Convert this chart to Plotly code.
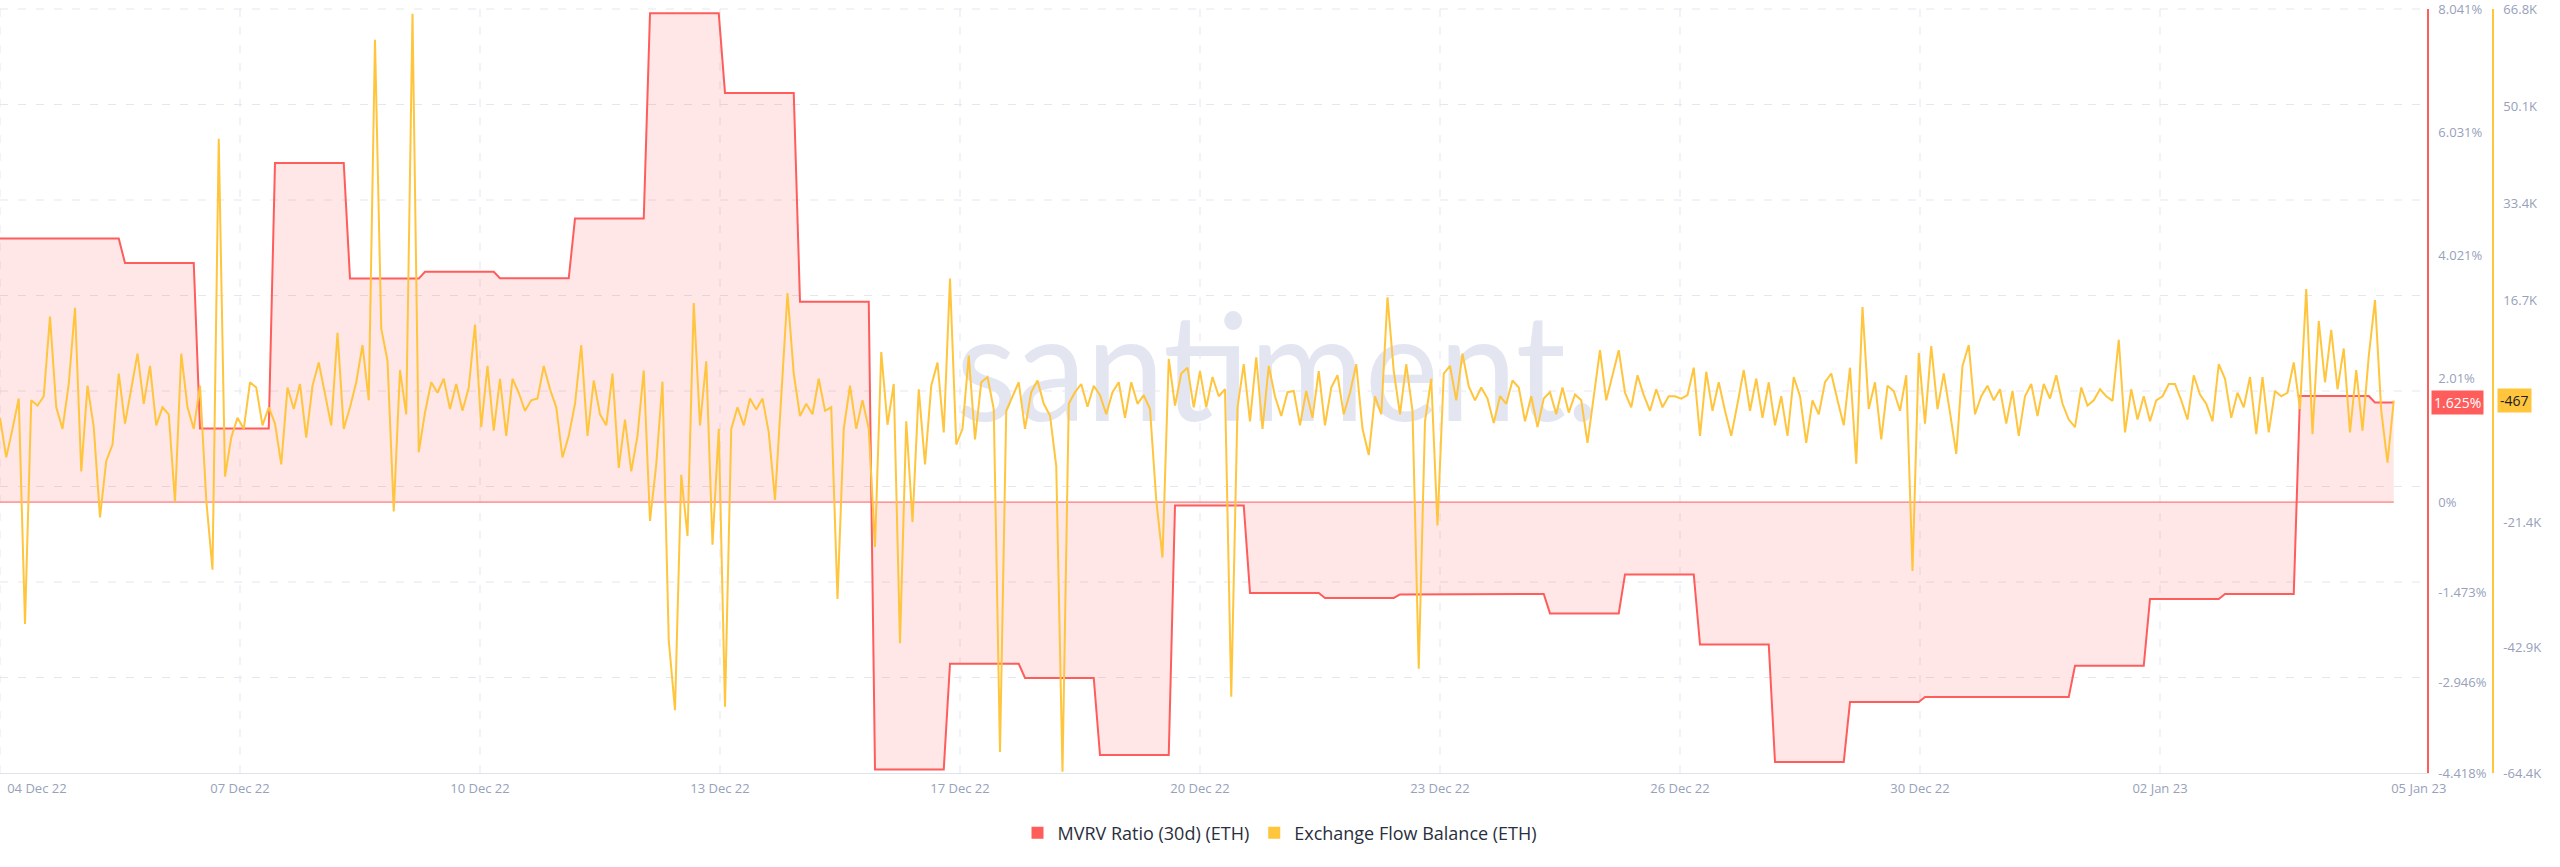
import base64
from datetime import datetime, timedelta
import plotly.graph_objects as go

# ---------------- data ----------------
series_start = datetime(2022, 12, 4, 8, 0)   # first sample
sample_hours = 2

# MVRV Ratio (30d) in %, one value per calendar day, 04 Dec 22 .. 05 Jan 23
mvrv_daily = [
    4.297, 4.297, 3.899, 1.199, 5.53, 3.645, 3.755, 3.65, 4.623, 7.97,
    6.673, 3.266, -4.36, -2.637, -2.868, -4.124, -0.055, -1.481, -1.563, -1.507,
    -1.500, -1.815, -1.180, -2.324, -4.238, -3.26, -3.18, -3.18, -2.67, -1.58,
    -1.50, 1.73, 1.625,
]

# Exchange Flow Balance in thousands of ETH, one value every 2 hours
flow_balance_k = [
    -3.4, -10.2, -5.3, -0.1, -38.8, -0.4, -1.3, 0.3, 14.0, -1.6, -5.3, 2.4,
    15.5, -12.6, 2.1, -5.0, -20.5, -10.8, -8.0, 4.2, -4.4, 1.5, 7.6, -1.0,
    5.5, -4.7, -1.6, -2.8, -17.8, 7.6, -1.6, -5.3, 2.1, -17.5, -29.5, 44.5,
    -13.5, -6.8, -3.4, -5.3, 2.7, 1.8, -4.7, -1.6, -4.4, -11.4, 1.8, -1.9,
    2.4, -6.8, 2.1, 6.1, 0.9, -4.7, 11.2, -5.3, -1.6, 2.7, 9.1, -0.4,
    61.5, 11.9, 6.4, -19.5, 4.8, -2.8, 66.0, -9.3, -2.5, 2.7, 0.9, 3.3,
    -1.9, 2.4, -2.2, 1.8, 12.6, -5.0, 5.5, -5.6, 3.3, -6.5, 3.3, 0.9,
    -2.2, -0.4, -0.1, 5.5, 1.5, -1.6, -10.2, -6.5, -1.0, 9.1, -6.5, 3.0,
    -2.8, -4.7, 4.2, -12.0, -3.7, -12.6, -6.5, 4.7, -21.1, -11.4, 2.8, -41.6,
    -53.6, -13.2, -23.7, 16.3, -4.7, 6.3, -25.2, -5.3, -53.0, -5.3, -1.6, -4.7,
    -0.1, -2.0, -0.1, -5.9, -17.5, 0.3, 18.0, 4.2, -3.1, -1.0, -2.8, 3.3,
    -2.2, -1.6, -34.5, -5.3, 2.1, -5.3, -0.4, -5.3, -25.6, 7.9, -4.6, 2.4,
    -42.1, -4.0, -21.3, 1.5, -11.4, 2.1, 6.1, -5.9, 20.5, -8.0, -5.3, 7.3,
    -7.1, 2.7, 3.6, -1.9, -60.8, -2.2, 0.3, 2.7, -5.3, 1.0, 3.0, -1.0,
    -3.0, -11.7, -64.2, -1.0, 1.0, 2.4, -1.5, 2.1, 0.5, -2.8, 1.0, 2.7,
    -3.4, 2.7, -1.0, 0.5, -1.9, -17.5, -27.4, 6.7, -1.3, 4.2, 5.2, -1.6,
    4.6, -1.6, 3.6, 0.3, 1.5, -51.3, -1.6, 5.8, -4.0, 7.0, -5.3, 5.5,
    0.3, -3.1, 1.0, 1.2, -4.7, 1.2, -3.4, 4.6, -4.7, 1.8, 3.9, -2.8,
    0.9, 5.8, -5.3, -9.8, 0.3, -2.8, 17.3, 4.6, -2.8, 5.8, -2.2, -46.5,
    -4.0, 3.3, -21.9, 4.2, 5.5, -0.4, 7.6, 2.0, -0.4, 1.8, -0.1, -4.3,
    0.3, -1.0, 3.0, 1.8, -4.0, 0.3, -5.0, -0.1, 1.0, -2.8, 1.8, -2.5,
    0.6, -0.4, -7.7, 0.3, 8.2, -0.4, 3.9, 8.2, 0.9, -1.6, 3.9, 0.5,
    -2.2, 1.5, -1.6, 0.3, 0.3, -0.1, 0.5, 5.2, -6.5, 4.5, -2.2, 2.7,
    -2.2, -6.5, -1.0, 4.8, -2.2, 3.3, -3.4, 2.7, -4.7, 0.3, -6.5, 3.6,
    0.3, -7.7, -0.4, -2.8, 2.7, 4.2, -0.4, -4.7, 5.2, -11.3, 15.6, -1.9,
    2.7, -7.1, 2.1, 1.2, -2.2, 3.9, -29.7, 7.7, -4.4, 8.9, -1.9, 4.2,
    -2.5, -9.6, 5.5, 9.1, -2.8, 0.3, 2.1, -0.4, 1.5, -4.4, 1.2, -6.5,
    0.3, 2.4, -3.1, 2.4, -0.1, 3.9, -1.0, -3.7, -5.0, 1.8, -1.3, -0.4,
    1.5, 0.3, -0.5, 10.0, -5.9, 1.5, -3.7, 0.3, -4.0, -0.4, 0.3, 2.4,
    2.4, -0.4, -3.7, 3.9, 0.6, -1.0, -4.0, 5.8, 3.3, -3.4, 0.9, -1.6,
    3.6, -6.2, 3.6, -5.9, 1.2, 0.3, 0.9, 6.1, -1.9, 18.7, -6.2, 13.2,
    2.7, 11.7, 1.5, 8.5, -5.9, 4.8, -5.6, 7.2, 16.8, -2.2, -11.1, -0.467,
]

x_tick_labels = ["04 Dec 22", "07 Dec 22", "10 Dec 22", "13 Dec 22", "17 Dec 22", "20 Dec 22",
                 "23 Dec 22", "26 Dec 22", "30 Dec 22", "02 Jan 23", "05 Jan 23"]
mvrv_ticks = [8.041, 6.031, 4.021, 2.01, 0, -1.473, -2.946, -4.418]
flow_ticks_k = [66.8, 50.1, 33.4, 16.7, -21.4, -42.9, -64.4]

# ---------------- derived ----------------
n = len(flow_balance_k)
times = [series_start + timedelta(hours=sample_hours * i) for i in range(n)]
first_day = datetime(2022, 12, 4)
mvrv = [mvrv_daily[(t - first_day).days] for t in times]

tick_step = timedelta(days=3.2)
grid_times = [series_start + tick_step * k for k in range(len(x_tick_labels) - 1)]
label_times = [series_start + tick_step * k for k in range(len(x_tick_labels))]
label_times[0] = series_start + timedelta(hours=11.8)
label_times[-1] = label_times[-1] + timedelta(hours=6)
x_end = series_start + timedelta(days=2427 / 75)

W, H = 2560, 867
RED = "#ff5c5c"
YEL = "#ffc53d"
TICK = "#97a1ba"
GRID = "#e4e7f0"
FONT = "Open Sans"
TICK_SIZE = 13

fig = go.Figure()
fig.add_trace(go.Scatter(x=times, y=mvrv, mode="lines", line=dict(color=RED, width=2),
                         fill="tozeroy", fillcolor="rgba(255,92,92,0.15)",
                         showlegend=False, hoverinfo="skip", yaxis="y"))
fig.add_trace(go.Scatter(x=times, y=[0] * n, mode="lines", line=dict(color=RED, width=1),
                         showlegend=False, hoverinfo="skip", yaxis="y"))
fig.add_trace(go.Scatter(x=times, y=flow_balance_k, mode="lines", line=dict(color=YEL, width=2),
                         showlegend=False, hoverinfo="skip", yaxis="y2"))
# legend entries (square swatches)
fig.add_trace(go.Scatter(x=[None], y=[None], mode="markers", name="MVRV Ratio (30d) (ETH)",
                         marker=dict(symbol="square", size=12, color=RED)))
fig.add_trace(go.Scatter(x=[None], y=[None], mode="markers", name="Exchange Flow Balance (ETH)",
                         marker=dict(symbol="square", size=12, color=YEL), yaxis="y2"))

dom_right = 2427 / W
svg = ('<svg xmlns="http://www.w3.org/2000/svg" width="700" height="200">'
       '<text x="0" y="160" font-family="Lato" font-size="150" fill="#e3e6f1" '
       'textLength="643" lengthAdjust="spacingAndGlyphs">santiment.</text></svg>')
svg_src = "data:image/svg+xml;base64," + base64.b64encode(svg.encode()).decode()

plot_top, plot_bot = 9, 773
ph = plot_bot - plot_top

# dashed grid (8 equal horizontal bands, vertical lines at the date grid)
grid_shapes = []
for k in range(1, 9):
    grid_shapes.append(dict(type="line", xref="x", yref="paper", x0=series_start, x1=x_end,
                            y0=k / 8, y1=k / 8, layer="below",
                            line=dict(color=GRID, width=1, dash="8px,10px")))
for gt in grid_times:
    grid_shapes.append(dict(type="line", xref="x", yref="paper", x0=gt, x1=gt, y0=0, y1=1,
                            layer="below", line=dict(color=GRID, width=1, dash="8px,10px")))

fig.update_layout(
    width=W, height=H,
    margin=dict(l=0, r=0, t=plot_top, b=H - plot_bot, pad=0, autoexpand=False),
    paper_bgcolor="white", plot_bgcolor="rgba(0,0,0,0)",
    font=dict(family=FONT, color=TICK, size=TICK_SIZE),
    xaxis=dict(domain=[0, dom_right], range=[series_start, x_end], tickvals=label_times,
               ticktext=x_tick_labels, showgrid=False, zeroline=False, showline=True,
               linecolor="#dfe3ee", linewidth=1, ticks="",
               tickfont=dict(size=TICK_SIZE, color=TICK), ticklabelstandoff=3,
               automargin=False, ticklabeloverflow="allow"),
    yaxis=dict(side="right", anchor="x", range=[mvrv_ticks[-1], mvrv_ticks[0]],
               tickvals=mvrv_ticks, ticktext=[f"{v:g}%" for v in mvrv_ticks],
               showgrid=False, zeroline=False, showline=True, linecolor=RED, linewidth=1.5,
               ticks="", tickfont=dict(size=TICK_SIZE, color=TICK), ticklabelstandoff=7,
               automargin=False, ticklabeloverflow="allow"),
    yaxis2=dict(side="right", overlaying="y", anchor="free", position=2493 / W,
                range=[flow_ticks_k[-1], flow_ticks_k[0]], tickvals=flow_ticks_k,
                ticktext=[f"{v:g}K" for v in flow_ticks_k], showgrid=False, zeroline=False,
                showline=True, linecolor=YEL, linewidth=1.5, ticks="",
                tickfont=dict(size=TICK_SIZE, color=TICK), ticklabelstandoff=7,
                automargin=False, ticklabeloverflow="allow"),
    legend=dict(orientation="h", x=0.5, xanchor="center", y=(plot_bot - 833) / ph,
                yanchor="middle", font=dict(family=FONT, size=18, color="#2a2f3d"),
                itemwidth=30, traceorder="normal", bgcolor="rgba(0,0,0,0)"),
    shapes=grid_shapes,
    images=[dict(source=svg_src, xref="paper", yref="paper", x=956 / W,
                 y=(plot_bot - 261) / ph, sizex=700 / W, sizey=200 / ph,
                 xanchor="left", yanchor="top", sizing="stretch", layer="below")],
    annotations=[
        dict(text=f"{mvrv[-1]:.3f}%", xref="paper", yref="y", x=2431 / W, y=mvrv[-1],
             xanchor="left", yanchor="middle", showarrow=False, bgcolor=RED,
             font=dict(color="white", size=TICK_SIZE + 1, family=FONT), borderpad=2),
        dict(text=f"{round(flow_balance_k[-1] * 1000)}", xref="paper", yref="y2", x=2497 / W,
             y=flow_balance_k[-1], xanchor="left", yanchor="middle", showarrow=False,
             bgcolor=YEL, font=dict(color="#1b1e26", size=TICK_SIZE + 1, family=FONT),
             borderpad=2),
    ],
    showlegend=True,
)

fig.write_html("out.html")
